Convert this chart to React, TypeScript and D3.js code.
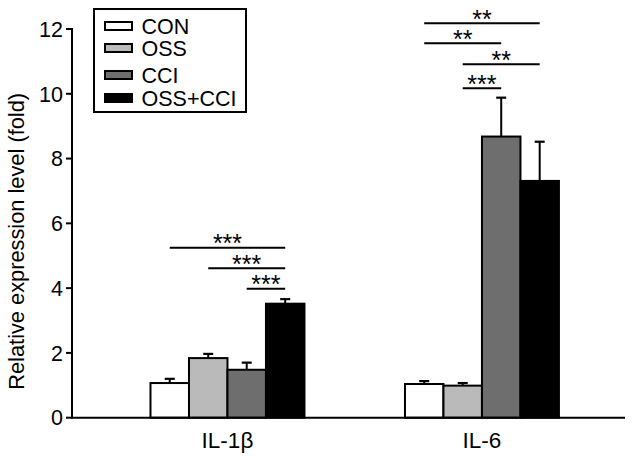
import React from "react";
import * as d3 from "d3";

const groups = ["IL-1β", "IL-6"];
const series = ["CON", "OSS", "CCI", "OSS+CCI"];
const seriesColors = ["#ffffff", "#bababa", "#6e6e6e", "#000000"];
const il1bMeans = [1.07, 1.84, 1.48, 3.52];
const il1bErrors = [0.13, 0.13, 0.22, 0.14];
const il6Means = [1.04, 0.99, 8.68, 7.31];
const il6Errors = [0.09, 0.08, 1.2, 1.21];
const yTicks = [0, 2, 4, 6, 8, 10, 12];
// significance brackets: group, from series, to series, level, label
const sigGroups = ["IL-1β", "IL-1β", "IL-1β", "IL-6", "IL-6", "IL-6", "IL-6"];
const sigFrom = ["CON", "OSS", "CCI", "CON", "CON", "OSS", "OSS"];
const sigTo = ["OSS+CCI", "OSS+CCI", "OSS+CCI", "OSS+CCI", "CCI", "OSS+CCI", "CCI"];
const sigLevels = [5.25, 4.61, 3.98, 12.18, 11.56, 10.91, 10.17];
const sigLabels = ["***", "***", "***", "**", "**", "**", "***"];

const W = 633;
const H = 462;
const FONT = "'Liberation Sans', Arial, Helvetica, sans-serif";
const FS = 21.5;

export default function App() {
  const left = 72;
  const right = 625;
  const y = d3.scaleLinear().domain([0, 12]).range([417.7, 29]);
  const x = d3
    .scaleBand<string>()
    .domain(groups)
    .range([left, right])
    .paddingInner(0.395)
    .paddingOuter(0.284)
    .align(0.543);
  const xs = d3.scaleBand<string>().domain(series).range([0, x.bandwidth()]).padding(0);
  const means = [il1bMeans, il6Means];
  const errs = [il1bErrors, il6Errors];

  const barCenter = (g: string, s: string) => (x(g) as number) + (xs(s) as number) + xs.bandwidth() / 2;

  return (
    <svg width={W} height={H} style={{ position: "absolute", left: 0, top: 0, background: "#fff" }} fontFamily={FONT}>
      <rect x={0} y={0} width={W} height={H} fill="#fff" />
      {/* bars */}
      {groups.map((g, gi) =>
        series.map((s, si) => {
          const bx = (x(g) as number) + (xs(s) as number);
          const top = y(means[gi][si]);
          const cx = bx + xs.bandwidth() / 2;
          const et = y(means[gi][si] + errs[gi][si]);
          return (
            <g key={g + s}>
              <line x1={cx} x2={cx} y1={top} y2={et} stroke="#000" strokeWidth={2} />
              <line x1={cx - 5} x2={cx + 5} y1={et} y2={et} stroke="#000" strokeWidth={2.2} />
              <rect x={bx} y={top} width={xs.bandwidth()} height={y(0) - top} fill={seriesColors[si]} stroke="#000" strokeWidth={2} />
            </g>
          );
        })
      )}
      {/* axes */}
      <line x1={left} x2={left} y1={y(12) - 1} y2={y(0) + 1} stroke="#000" strokeWidth={2} />
      <line x1={left} x2={right} y1={y(0)} y2={y(0)} stroke="#000" strokeWidth={2} />
      {yTicks.map((t) => (
        <g key={t}>
          <line x1={left - 6} x2={left} y1={y(t)} y2={y(t)} stroke="#000" strokeWidth={2} />
          <text x={left - 9} y={y(t)} dy="0.36em" textAnchor="end" fontSize={FS} fill="#000">
            {t}
          </text>
        </g>
      ))}
      {groups.map((g) => (
        <text key={g} x={(x(g) as number) + x.bandwidth() / 2} y={447.5} textAnchor="middle" fontSize={22.5} fill="#000">
          {g}
        </text>
      ))}
      <text transform={`translate(24,${(y(0) + y(12)) / 2 + 18}) rotate(-90)`} textAnchor="middle" fontSize={21.8} fill="#000">
        Relative expression level (fold)
      </text>
      {/* significance */}
      {sigGroups.map((g, i) => {
        const x1 = barCenter(g, sigFrom[i]);
        const x2 = barCenter(g, sigTo[i]);
        const ly = y(sigLevels[i]);
        return (
          <g key={i}>
            <line x1={x1} x2={x2} y1={ly} y2={ly} stroke="#000" strokeWidth={2} />
            <text x={(x1 + x2) / 2} y={ly + 4.5} textAnchor="middle" fontSize={25} fill="#000">
              {sigLabels[i]}
            </text>
          </g>
        );
      })}
      {/* legend */}
      <rect x={94} y={9} width={152} height={103} fill="#fff" stroke="#000" strokeWidth={2} />
      {series.map((s, i) => {
        const ly = [26, 48, 75, 98][i];
        return (
          <g key={s}>
            <rect x={105} y={ly - 4} width={27} height={8} fill={seriesColors[i]} stroke="#000" strokeWidth={2} />
            <text x={141.5} y={ly} dy="0.36em" fontSize={FS} fill="#000">
              {s}
            </text>
          </g>
        );
      })}
    </svg>
  );
}
